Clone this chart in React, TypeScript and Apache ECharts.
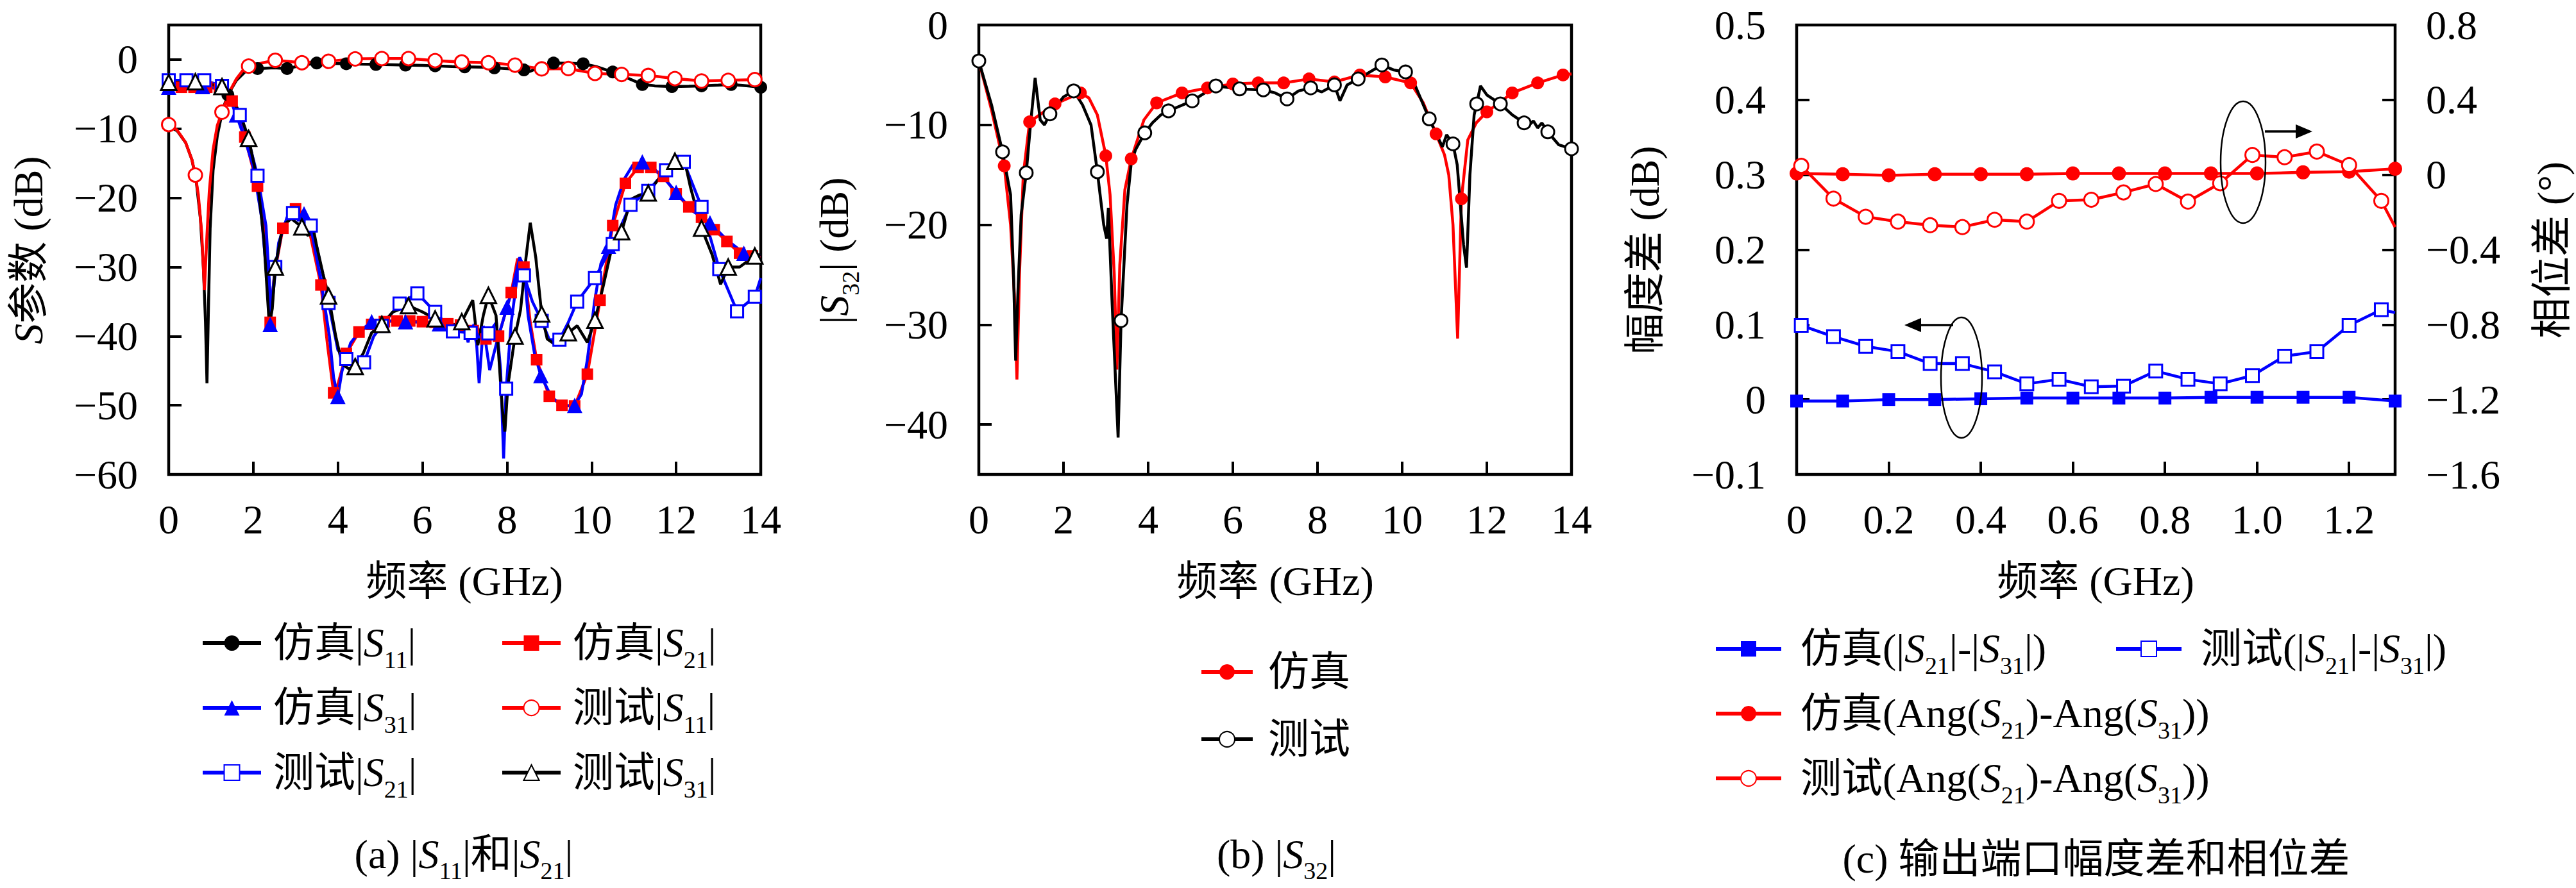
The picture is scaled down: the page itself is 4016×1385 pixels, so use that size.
import React, { useEffect, useRef } from 'react';
import * as echarts from 'echarts';

type P = [number, number];

const FONT = "'Liberation Serif', 'Noto Sans CJK SC', serif";
const RED = '#ff0000';
const BLUE = '#0000ff';
const BLACK = '#000000';

// ---------- (a) |S11| and |S21| ----------
const aXTicks = [0, 2, 4, 6, 8, 10, 12, 14];
const aYTicks = [-60, -50, -40, -30, -20, -10, 0];

const s11SimLine: P[] = [[0, -9.6], [0.2, -10.3], [0.4, -12], [0.55, -14.5], [0.65, -17.5], [0.75, -23], [0.82, -30], [0.87, -38], [0.905, -46.8], [0.94, -36], [0.98, -24.4], [1.05, -16], [1.15, -11], [1.28, -7.2], [1.6, -3], [1.8, -1.8], [2.5, -1.2], [3.1, -0.9], [3.8, -0.55], [4.5, -0.65], [5.3, -0.75], [6.0, -0.85], [6.7, -1.0], [7.4, -1.1], [8.0, -1.3], [8.55, -1.7], [8.8, -1.0], [9.5, -0.55], [10.1, -1.0], [10.9, -2.8], [11.5, -3.8], [12.3, -3.85], [13.0, -3.7], [13.7, -3.8]];
const s11SimMarks: P[] = [[1.4, -5.1], [2.1, -1.3], [2.8, -1.3], [3.5, -0.5], [4.2, -0.6], [4.9, -0.7], [5.6, -0.8], [6.3, -0.9], [7.0, -1.05], [7.7, -1.2], [8.4, -1.5], [9.1, -0.5], [9.8, -0.6], [10.5, -1.8], [11.2, -3.6], [11.9, -3.9], [12.6, -3.8], [13.3, -3.6], [14, -4.0]];

const s11MeasLine: P[] = [[0.2, -10.2], [0.4, -12], [0.55, -14.5], [0.7, -19.5], [0.78, -25], [0.845, -33.3], [0.9, -26], [0.96, -19], [1.05, -13], [1.15, -9.5], [1.45, -4.5], [1.6, -2.8], [1.75, -1.6], [2.2, -0.5], [14, -2.9]];
const s11MeasMarks: P[] = [[0, -9.4], [0.63, -16.7], [1.26, -7.6], [1.89, -0.95], [2.52, -0.1], [3.15, -0.45], [3.78, -0.25], [4.41, 0.1], [5.04, 0.15], [5.67, 0.15], [6.3, -0.15], [6.93, -0.35], [7.56, -0.45], [8.19, -0.8], [8.82, -1.35], [9.45, -1.3], [10.08, -2.0], [10.71, -2.15], [11.34, -2.3], [11.97, -2.75], [12.6, -3.1], [13.23, -3.0], [13.86, -2.9]];

const s21SimLine: P[] = [[2.25, -24], [2.33, -31], [2.5, -31], [3.75, -41], [4.0, -47], [8.25, -28.8], [8.55, -38], [14, -28.5]];
const s21SimMarks: P[] = [[0, -4.0], [0.3, -4.0], [0.6, -4.0], [0.9, -4.0], [1.2, -4.2], [1.5, -6.0], [1.8, -11.2], [2.1, -18.3], [2.4, -38.0], [2.7, -24.4], [3.0, -21.6], [3.3, -24.0], [3.6, -32.6], [3.9, -48.2], [4.2, -42.5], [4.5, -39.4], [4.8, -38.3], [5.1, -37.9], [5.4, -37.8], [5.7, -37.8], [6.0, -37.9], [6.3, -38.0], [6.6, -38.2], [6.9, -38.4], [7.2, -39.2], [7.5, -40.4], [7.8, -40.0], [8.1, -33.7], [8.4, -30.0], [8.7, -43.4], [9.0, -48.7], [9.3, -50.0], [9.6, -50.1], [9.9, -45.5], [10.2, -34.8], [10.5, -24.0], [10.8, -17.9], [11.1, -15.6], [11.4, -15.6], [11.7, -16.9], [12.0, -19.4], [12.3, -21.3], [12.6, -22.8], [12.9, -24.6], [13.2, -26.3], [13.5, -28.0], [13.8, -28.4]];

const s31SimLine: P[] = [[1.2, -4.2], [1.4, -5.0], [1.8, -11.5], [2.0, -15.5], [2.2, -23], [2.3, -30], [2.5, -32], [2.6, -26.5], [2.8, -22.8], [3.0, -21.6], [3.4, -25.5], [3.6, -32], [3.8, -40], [3.9, -46], [4.1, -45], [4.3, -41], [4.5, -39.4], [5.2, -37.8], [6.0, -38.0], [6.8, -38.4], [7.0, -38.8], [7.08, -40.9], [7.14, -39.0], [7.28, -41], [7.34, -46.8], [7.44, -38.5], [7.59, -44.9], [7.74, -41.3], [8.14, -32.9], [8.3, -28.6], [8.4, -30], [8.5, -37.1], [8.65, -42.5], [9.06, -48.9], [9.36, -50.1], [9.76, -48.4], [9.9, -43.4], [10.07, -35], [10.22, -29.5], [10.57, -21], [10.77, -17.3], [10.98, -15.2], [11.48, -15.8], [11.79, -17.7], [12.39, -21.9], [13.2, -26.1], [14, -28.3]];
const s31SimMarks: P[] = [[0, -4.0], [0.8, -3.9], [1.6, -8.0], [2.4, -38.3], [3.2, -22.3], [4.0, -48.7], [4.8, -37.9], [5.6, -37.9], [6.4, -38.2], [7.2, -39.2], [8.0, -35.8], [8.8, -45.7], [9.6, -50.0], [10.4, -27.0], [11.2, -14.8], [12.0, -19.2], [12.8, -23.6], [13.6, -28.0]];

const s21MeasLine: P[] = [[1.5, -5.5], [1.9, -12], [2.3, -24], [2.42, -36], [2.7, -24], [3.1, -22.5], [3.5, -27], [4.0, -42], [4.4, -44], [4.85, -40], [7.3, -39], [7.75, -38], [7.85, -45], [7.92, -57.7], [8.1, -38], [8.25, -31], [8.6, -35], [9.0, -40.5], [9.45, -38], [14, -31.6]];
const s21MeasMarks: P[] = [[0, -3.0], [0.42, -3.0], [0.84, -3.0], [1.26, -3.8], [1.68, -8.0], [2.1, -16.8], [2.52, -30.0], [2.94, -22.2], [3.36, -24.0], [3.78, -35.2], [4.2, -43.3], [4.62, -43.8], [5.04, -38.5], [5.46, -35.3], [5.88, -33.8], [6.3, -36.5], [6.72, -39.3], [7.14, -39.5], [7.56, -39.6], [7.98, -47.6], [8.4, -31.2], [8.82, -37.8], [9.24, -40.5], [9.66, -35.0], [10.08, -31.6], [10.5, -26.7], [10.92, -21.0], [11.34, -19.0], [11.76, -16.0], [12.18, -14.8], [12.6, -21.3], [13.02, -30.3], [13.44, -36.4], [13.86, -34.3]];

const s31MeasLine: P[] = [[1.5, -5.5], [1.7, -8], [2.1, -17.5], [2.25, -26], [2.38, -38.5], [2.45, -36], [2.7, -24], [2.9, -23], [3.3, -25.5], [3.39, -23.5], [3.5, -27], [3.65, -31], [3.95, -40], [4.1, -44], [4.25, -44.7], [4.6, -42.5], [4.8, -39.5], [5.3, -36.5], [6.0, -36.5], [6.6, -38.8], [7.19, -34.8], [7.31, -41.3], [7.44, -37], [7.74, -37], [7.89, -50.6], [7.95, -53.8], [8.02, -47.2], [8.32, -36.2], [8.45, -28.6], [8.55, -23.6], [8.68, -28.6], [8.95, -40.4], [9.16, -41.3], [9.66, -38.5], [9.9, -40.9], [10.27, -32.9], [10.47, -27.4], [10.93, -20.2], [11.13, -19.6], [11.58, -17.3], [12.22, -15.2], [12.34, -18.5], [12.85, -28.2], [13.05, -32.5], [13.5, -30], [14, -28.2]];
const s31MeasMarks: P[] = [[0, -3.3], [0.63, -3.2], [1.26, -3.9], [1.89, -11.4], [2.52, -30.0], [3.15, -24.2], [3.78, -34.2], [4.41, -44.4], [5.04, -38.3], [5.67, -35.6], [6.3, -37.5], [6.93, -37.9], [7.56, -34.1], [8.19, -40.0], [8.82, -36.8], [9.45, -39.5], [10.08, -37.7], [10.71, -24.9], [11.34, -19.3], [11.97, -14.7], [12.6, -24.4], [13.23, -30.0], [13.86, -28.4]];

// ---------- (b) |S32| ----------
const bYTicks = [-40, -30, -20, -10, 0];
const s32SimLine: P[] = [[0.3, -8.5], [0.75, -20], [0.84, -27], [0.9, -35.5], [0.96, -25], [1.05, -15], [1.5, -8.8], [2.6, -7.3], [2.8, -9], [3.1, -17], [3.2, -25], [3.26, -34.5], [3.33, -24], [3.45, -16.5], [3.9, -9.5], [10.5, -7.8], [11.0, -13], [11.1, -15], [11.2, -20], [11.31, -31.4], [11.55, -11.5], [11.75, -9.8], [14, -4.9]];
const s32SimMarks: P[] = [[0, -3.6], [0.6, -14.1], [1.2, -9.7], [1.8, -7.9], [2.4, -6.8], [3.0, -13.1], [3.6, -13.4], [4.2, -7.8], [4.8, -6.8], [5.4, -6.3], [6.0, -5.9], [6.6, -5.8], [7.2, -5.8], [7.8, -5.4], [8.4, -5.7], [9.0, -5.0], [9.6, -5.2], [10.2, -5.8], [10.8, -10.9], [11.4, -17.4], [12.0, -8.7], [12.6, -6.8], [13.2, -5.8], [13.8, -5.0]];
const s32MeasLine: P[] = [[0.3, -8], [0.75, -17], [0.82, -25], [0.87, -33.6], [0.93, -26], [1.0, -19], [1.22, -10], [1.33, -5.3], [1.45, -9.5], [1.55, -10], [2.0, -7.2], [2.45, -8], [2.65, -10], [2.95, -20], [3.02, -21.4], [3.06, -18.3], [3.15, -28], [3.29, -41.3], [3.5, -18], [3.6, -13.8], [3.7, -12.5], [4.1, -9.8], [4.3, -9], [7.0, -6.8], [7.55, -6.6], [8.1, -6.7], [8.53, -7.6], [8.7, -6.0], [9.8, -4.5], [10.3, -6], [10.85, -11.3], [10.95, -12.2], [11.05, -11], [11.3, -14], [11.45, -22], [11.52, -24.3], [11.6, -15], [11.7, -9], [11.85, -6.1], [12.0, -7], [12.6, -9], [13.0, -10], [13.1, -9.6], [13.2, -10.3], [13.3, -9.8], [13.7, -12]];
const s32MeasMarks: P[] = [[0, -3.6], [0.56, -12.7], [1.12, -14.8], [1.68, -8.9], [2.24, -6.6], [2.8, -14.7], [3.36, -29.6], [3.92, -10.8], [4.48, -8.6], [5.04, -7.6], [5.6, -6.1], [6.16, -6.4], [6.72, -6.5], [7.28, -7.4], [7.84, -6.3], [8.4, -6.0], [8.96, -5.4], [9.52, -4.0], [10.08, -4.7], [10.64, -9.4], [11.2, -11.9], [11.76, -7.9], [12.32, -7.9], [12.88, -9.8], [13.44, -10.7], [14.0, -12.4]];

// ---------- (c) amplitude / phase difference ----------
const cXTicks = [0, 0.2, 0.4, 0.6, 0.8, 1.0, 1.2];
const cYLeftTicks = [-0.1, 0, 0.1, 0.2, 0.3, 0.4, 0.5];
const cYRightTicks = [-1.6, -1.2, -0.8, -0.4, 0, 0.4, 0.8];
const cSimFreq = [0, 0.1, 0.2, 0.3, 0.4, 0.5, 0.6, 0.7, 0.8, 0.9, 1.0, 1.1, 1.2, 1.3];
const ampSim = [-0.002, -0.002, 0, 0, 0.001, 0.002, 0.002, 0.002, 0.002, 0.003, 0.003, 0.003, 0.003, -0.002];
const phaseSim = [0.007, 0.003, -0.003, 0.003, 0.003, 0.003, 0.007, 0.007, 0.007, 0.007, 0.007, 0.013, 0.017, 0.032];
const cMeasFreq = [0.01, 0.08, 0.15, 0.22, 0.29, 0.36, 0.43, 0.5, 0.57, 0.64, 0.71, 0.78, 0.85, 0.92, 0.99, 1.06, 1.13, 1.2, 1.27];
const ampMeas = [0.099, 0.084, 0.071, 0.064, 0.048, 0.048, 0.037, 0.021, 0.027, 0.017, 0.018, 0.038, 0.027, 0.021, 0.032, 0.058, 0.064, 0.099, 0.12];
const phaseMeas = [0.048, -0.127, -0.224, -0.25, -0.269, -0.279, -0.24, -0.25, -0.139, -0.133, -0.094, -0.049, -0.143, -0.045, 0.106, 0.094, 0.124, 0.052, -0.139];
const ampMeasEdge: P[] = [[1.3, 0.116]];
const phaseMeasEdge: P[] = [[1.3, -0.279]];

// ---------- names / texts ----------
const namesA = ['仿真|S11|', '仿真|S21|', '仿真|S31|', '测试|S11|', '测试|S21|', '测试|S31|'];
const namesB = ['仿真', '测试'];
const namesC = ['仿真(|S21|-|S31|)', '测试(|S21|-|S31|)', '仿真(Ang(S21)-Ang(S31))', '测试(Ang(S21)-Ang(S31))'];

const LABELS: Record<string, string> = {
  '仿真|S11|': '{n|仿真|}{i|S}{s|11}{n||}',
  '仿真|S21|': '{n|仿真|}{i|S}{s|21}{n||}',
  '仿真|S31|': '{n|仿真|}{i|S}{s|31}{n||}',
  '测试|S11|': '{n|测试|}{i|S}{s|11}{n||}',
  '测试|S21|': '{n|测试|}{i|S}{s|21}{n||}',
  '测试|S31|': '{n|测试|}{i|S}{s|31}{n||}',
  '仿真': '{n|仿真}',
  '测试': '{n|测试}',
  '仿真(|S21|-|S31|)': '{n|仿真(|}{i|S}{s|21}{n||-|}{i|S}{s|31}{n||)}',
  '测试(|S21|-|S31|)': '{n|测试(|}{i|S}{s|21}{n||-|}{i|S}{s|31}{n||)}',
  '仿真(Ang(S21)-Ang(S31))': '{n|仿真(Ang(}{i|S}{s|21}{n|)-Ang(}{i|S}{s|31}{n|))}',
  '测试(Ang(S21)-Ang(S31))': '{n|测试(Ang(}{i|S}{s|21}{n|)-Ang(}{i|S}{s|31}{n|))}',
};

const FS = 64;
const SUB = 38;
const LH = 90;

const legendRich = {
  n: { fontSize: FS, fontFamily: FONT, color: '#000', lineHeight: LH, verticalAlign: 'middle' },
  i: { fontSize: FS, fontFamily: FONT, fontStyle: 'italic', color: '#000', lineHeight: LH, verticalAlign: 'middle' },
  s: { fontSize: SUB, fontFamily: FONT, color: '#000', verticalAlign: 'bottom' },
};
const gRich = {
  n: { fontSize: FS, fontFamily: FONT, fill: '#000', lineHeight: LH, verticalAlign: 'middle' },
  i: { fontSize: FS, fontFamily: FONT, fontStyle: 'italic', fill: '#000', lineHeight: LH, verticalAlign: 'middle' },
  s: { fontSize: SUB, fontFamily: FONT, fill: '#000', verticalAlign: 'bottom' },
};

function build(line: P[], marks: P[]) {
  const items: any[] = [
    ...line.map((p) => ({ value: p, symbol: 'none' })),
    ...marks.map((p) => ({ value: p })),
  ];
  items.sort((a, b) => a.value[0] - b.value[0]);
  return items;
}
function zip(xs: number[], ys: number[]): P[] {
  return xs.map((x, i) => [x, ys[i]] as P);
}

function mk(name: string, data: any[], color: string, symbol: string, size: any, open: boolean, xi: number, yi: number) {
  return {
    type: 'line',
    name,
    data,
    xAxisIndex: xi,
    yAxisIndex: yi,
    symbol,
    symbolSize: size,
    showSymbol: true,
    showAllSymbol: true,
    lineStyle: { color, width: 4.5 },
    itemStyle: open
      ? { color: '#ffffff', borderColor: color, borderWidth: 3 }
      : { color, borderColor: color, borderWidth: 0 },
    emphasis: { disabled: true },
    clip: true,
  };
}

const fmtInt = (v: number) => (v === 0 ? '0' : (v < 0 ? '\u2212' : '') + Math.abs(v));
const fmtDec = (v: number) => (Math.abs(v) < 1e-9 ? '0' : (v < 0 ? '\u2212' : '') + Math.abs(v).toFixed(1));

const labelBase = { color: '#000', fontSize: FS, fontFamily: FONT };
const tick = (vals: number[]) => ({
  show: true,
  inside: true,
  length: 20,
  customValues: vals,
  lineStyle: { color: '#000', width: 4 },
});

function xAx(gi: number, min: number, max: number, ticks: number[], fmt: (v: number) => string) {
  return {
    type: 'value', gridIndex: gi, min, max, position: 'bottom',
    axisLine: { show: false, onZero: false }, splitLine: { show: false },
    axisTick: tick(ticks),
    axisLabel: { ...labelBase, lineHeight: FS, margin: 38, customValues: ticks, formatter: fmt },
  };
}
function yAx(gi: number, min: number, max: number, ticks: number[], fmt: (v: number) => string, pos: string) {
  return {
    type: 'value', gridIndex: gi, min, max, position: pos,
    axisLine: { show: false, onZero: false }, splitLine: { show: false },
    axisTick: tick(ticks),
    axisLabel: { ...labelBase, lineHeight: 44, margin: 48, customValues: ticks, formatter: fmt },
  };
}

function legendItem(name: string, left: number, top: number, itemWidth: number, pad: number) {
  return {
    data: [name],
    left, top,
    orient: 'horizontal',
    padding: 0,
    itemWidth,
    itemHeight: 30,
    selectedMode: false,
    formatter: (n: string) => LABELS[n],
    textStyle: { fontSize: FS, fontFamily: FONT, color: '#000', padding: [0, 0, 0, pad], rich: legendRich },
    lineStyle: { width: 6 },
  };
}

function gText(x: number, y: number, text: string, rot = 0, size = FS) {
  return {
    type: 'text', x, y, rotation: rot, z: 100,
    style: { text, rich: gRich, fontSize: size, fontFamily: FONT, fill: '#000', align: 'center', verticalAlign: 'middle' },
  };
}

// plot frames: top raised slightly below the canvas edge so the top tick labels stay inside
const GRID_TOP = 39;
const GRID_H = 701;
const gridBase = { show: true, borderColor: '#000', borderWidth: 4.5, backgroundColor: 'transparent', outerBoundsMode: 'none', containLabel: false };

function buildOption() {
  const series = [
    mk(namesA[0], build(s11SimLine, s11SimMarks), BLACK, 'circle', 20, false, 0, 0),
    mk(namesA[1], build(s21SimLine, s21SimMarks), RED, 'rect', 18, false, 0, 0),
    mk(namesA[2], build(s31SimLine, s31SimMarks), BLUE, 'triangle', 24, false, 0, 0),
    mk(namesA[3], build(s11MeasLine, s11MeasMarks), RED, 'circle', 21, true, 0, 0),
    mk(namesA[4], build(s21MeasLine, s21MeasMarks), BLUE, 'rect', 19, true, 0, 0),
    mk(namesA[5], build(s31MeasLine, s31MeasMarks), BLACK, 'triangle', 24, true, 0, 0),
    mk(namesB[0], build(s32SimLine, s32SimMarks), RED, 'circle', 20, false, 1, 1),
    mk(namesB[1], build(s32MeasLine, s32MeasMarks), BLACK, 'circle', 20, true, 1, 1),
    mk(namesC[0], build([], zip(cSimFreq, ampSim)), BLUE, 'rect', 20, false, 2, 2),
    mk(namesC[1], build(ampMeasEdge, zip(cMeasFreq, ampMeas)), BLUE, 'rect', 20, true, 2, 2),
    mk(namesC[2], build([], zip(cSimFreq, phaseSim)), RED, 'circle', 22, false, 2, 3),
    mk(namesC[3], build(phaseMeasEdge, zip(cMeasFreq, phaseMeas)), RED, 'circle', 22, true, 2, 3),
  ];

  const legend = [
    legendItem(namesA[0], 313, 971, 91, 14),
    legendItem(namesA[1], 780, 971, 91, 14),
    legendItem(namesA[2], 313, 1072, 91, 14),
    legendItem(namesA[3], 780, 1072, 91, 14),
    legendItem(namesA[4], 313, 1173, 91, 14),
    legendItem(namesA[5], 780, 1173, 91, 14),
    legendItem(namesB[0], 1870, 1016, 80, 19),
    legendItem(namesB[1], 1870, 1121, 80, 19),
    legendItem(namesC[0], 2672, 980, 102, 25),
    legendItem(namesC[1], 3296, 980, 102, 25),
    legendItem(namesC[2], 2672, 1081, 102, 25),
    legendItem(namesC[3], 2672, 1182, 102, 25),
  ];

  const graphic = [
    gText(44, 390, '{i|S}{n|参数 (dB)}', Math.PI / 2),
    gText(1300, 391, '{n||}{i|S}{s|32}{n|| (dB)}', Math.PI / 2),
    gText(2564, 390, '{n|幅度差 (dB)}', Math.PI / 2),
    gText(3978, 390, '{n|相位差 (°)}', Math.PI / 2),
    gText(724, 906, '{n|频率 (GHz)}'),
    gText(1988, 906, '{n|频率 (GHz)}'),
    gText(3267, 906, '{n|频率 (GHz)}'),
    gText(723, 1332, '{n|(a) |}{i|S}{s|11}{n||和|}{i|S}{s|21}{n||}'),
    gText(1990, 1332, '{n|(b) |}{i|S}{s|32}{n||}'),
    gText(3268, 1339, '{n|(c) 输出端口幅度差和相位差}'),
    { type: 'ellipse', z: 100, shape: { cx: 3497, cy: 253, rx: 35, ry: 95 }, style: { fill: 'none', stroke: '#000', lineWidth: 2.5 } },
    { type: 'line', z: 100, shape: { x1: 3531, y1: 205, x2: 3585, y2: 205 }, style: { stroke: '#000', lineWidth: 3.5 } },
    { type: 'polygon', z: 100, shape: { points: [[3605, 205], [3579, 194], [3579, 216]] }, style: { fill: '#000' } },
    { type: 'ellipse', z: 100, shape: { cx: 3058, cy: 589, rx: 32, ry: 94 }, style: { fill: 'none', stroke: '#000', lineWidth: 2.5 } },
    { type: 'line', z: 100, shape: { x1: 3045, y1: 507, x2: 2990, y2: 507 }, style: { stroke: '#000', lineWidth: 3.5 } },
    { type: 'polygon', z: 100, shape: { points: [[2969, 507], [2995, 496], [2995, 518]] }, style: { fill: '#000' } },
  ];

  return {
    animation: false,
    backgroundColor: '#ffffff',
    textStyle: { fontFamily: FONT },
    grid: [
      { ...gridBase, left: 263, top: GRID_TOP, width: 923, height: GRID_H },
      { ...gridBase, left: 1526, top: GRID_TOP, width: 924, height: GRID_H },
      { ...gridBase, left: 2801, top: GRID_TOP, width: 933, height: GRID_H },
    ],
    xAxis: [
      xAx(0, 0, 14, aXTicks, fmtInt),
      xAx(1, 0, 14, aXTicks, fmtInt),
      xAx(2, 0, 1.3, cXTicks, fmtDec),
    ],
    yAxis: [
      yAx(0, -60, 5, aYTicks, fmtInt, 'left'),
      yAx(1, -45, 0, bYTicks, fmtInt, 'left'),
      yAx(2, -0.1, 0.5, cYLeftTicks, fmtDec, 'left'),
      yAx(2, -1.6, 0.8, cYRightTicks, fmtDec, 'right'),
    ],
    legend,
    series,
    graphic,
  };
}

export default function App() {
  const ref = useRef<HTMLDivElement>(null);
  useEffect(() => {
    if (!ref.current) return;
    const chart = echarts.init(ref.current, undefined, { renderer: 'svg' });
    chart.setOption(buildOption() as any);
    return () => chart.dispose();
  }, []);
  return (
    <div
      ref={ref}
      style={{ position: 'absolute', left: 0, top: 0, width: 4016, height: 1385, background: '#ffffff' }}
    />
  );
}
